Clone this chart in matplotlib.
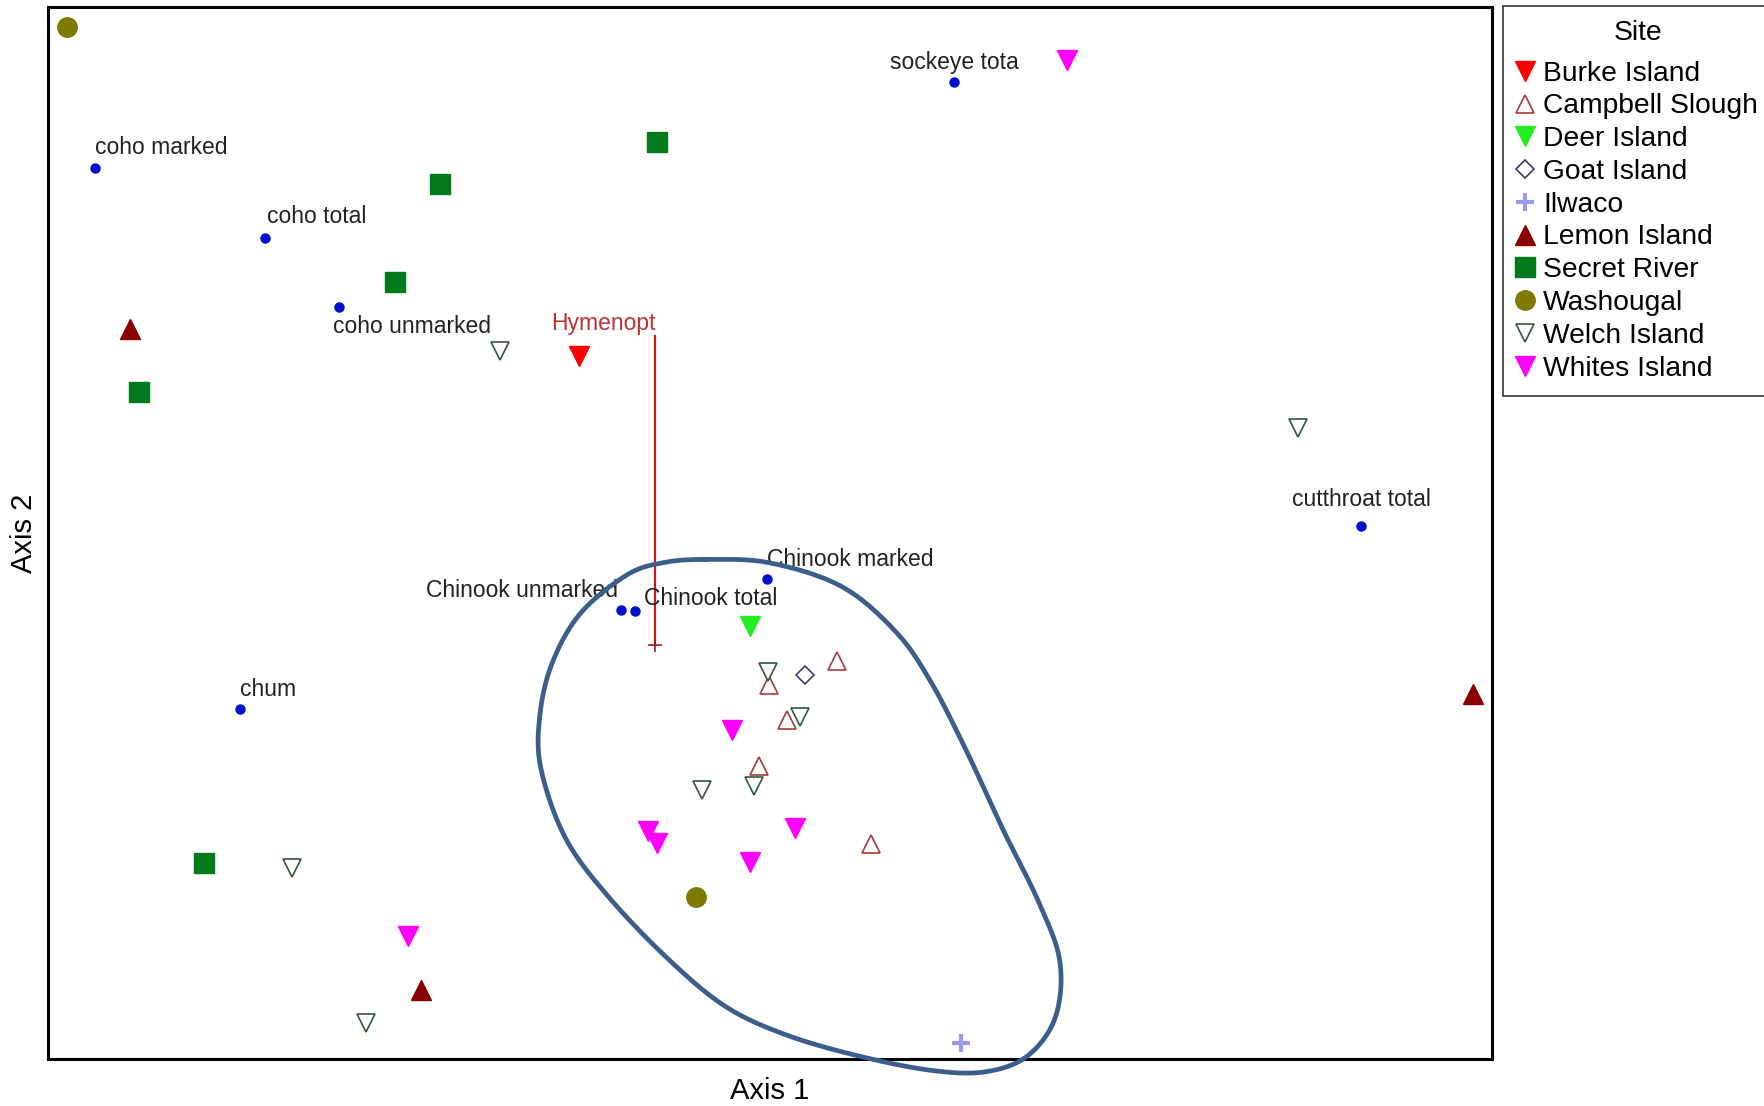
import numpy as np
import matplotlib
matplotlib.use("Agg")
import matplotlib.pyplot as plt

plt.rcParams['font.family'] = ['Liberation Sans', 'DejaVu Sans']

# ordination scores (arbitrary axis units)
site_names = ["Burke Island", "Campbell Slough", "Deer Island", "Goat Island", "Ilwaco",
              "Lemon Island", "Secret River", "Washougal", "Welch Island", "Whites Island"]
site_axis1 = [
    [47.2],
    [70.1, 64.1, 65.7, 63.2, 73.1],
    [62.4],
    [67.3],
    [81.1],
    [7.3, 126.6, 33.1],
    [54.1, 34.8, 30.8, 8.1, 13.9],
    [1.7, 57.6],
    [40.2, 111.1, 64.0, 66.8, 58.1, 62.7, 21.7, 28.3],
    [90.5, 60.8, 53.3, 54.1, 66.4, 62.4, 32.0],
]
site_axis2 = [
    [62.5],
    [35.4, 33.2, 30.1, 26.0, 19.1],
    [38.5],
    [34.1],
    [1.4],
    [64.9, 32.4, 6.1],
    [81.5, 77.8, 69.1, 59.3, 17.4],
    [91.7, 14.4],
    [62.9, 56.1, 34.4, 30.4, 23.9, 24.3, 17.0, 3.2],
    [88.8, 29.2, 20.3, 19.2, 20.5, 17.5, 10.9],
]

species_names = ["coho marked", "coho total", "coho unmarked", "sockeye tota", "cutthroat total",
                 "Chinook marked", "Chinook unmarked", "Chinook total", "chum"]
species_axis1 = [4.2, 19.3, 25.9, 80.5, 116.7, 63.9, 50.9, 52.2, 17.1]
species_axis2 = [79.2, 73.0, 66.8, 86.8, 47.4, 42.7, 39.9, 39.8, 31.1]

vector_name = "Hymenopt"
vector_axis1 = [53.9, 53.9]   # origin, tip
vector_axis2 = [36.8, 64.3]

# hand-drawn outline around the main cluster
loop_axis1 = [58.4, 64.1, 70.5, 75.3, 78.4, 81.6, 84.8, 88.0, 89.9, 89.5, 87.0, 83.2, 78.4,
              72.1, 65.7, 60.3, 55.3, 49.9, 46.0, 43.8, 43.7, 44.8, 47.3, 51.4, 54.6]
loop_axis2 = [44.4, 44.1, 42.0, 38.0, 33.6, 27.4, 20.5, 14.0, 8.7, 3.7, 0.25, -1.15, -1.0,
              0.25, 2.1, 4.6, 8.7, 14.3, 19.6, 25.8, 30.5, 35.2, 39.6, 43.0, 44.1]

site_style = {
    "Burke Island":    dict(marker='v', ms=14, mfc='#ff0000', mec='#ff0000', mew=1),
    "Campbell Slough": dict(marker='^', ms=13, mfc='white', mec='#a83a3a', mew=1.2),
    "Deer Island":     dict(marker='v', ms=14, mfc='#22ee22', mec='#22ee22', mew=1),
    "Goat Island":     dict(marker='D', ms=9, mfc='white', mec='#3a3a70', mew=1.2),
    "Ilwaco":          dict(marker='+', ms=13, mfc='#9a9aee', mec='#9a9aee', mew=3),
    "Lemon Island":    dict(marker='^', ms=14, mfc='#8b0000', mec='#8b0000', mew=1),
    "Secret River":    dict(marker='s', ms=14, mfc='#007a1a', mec='#007a1a', mew=1),
    "Washougal":       dict(marker='o', ms=14, mfc='#7f7a00', mec='#7f7a00', mew=1),
    "Welch Island":    dict(marker='v', ms=13, mfc='white', mec='#2f5a38', mew=1.2),
    "Whites Island":   dict(marker='v', ms=14, mfc='#ff00ff', mec='#ff00ff', mew=1),
}

# label offsets in points and alignment
label_pos = {
    "coho marked": ((0, 15), 'left'),
    "coho total": ((1, 15), 'left'),
    "coho unmarked": ((-5, -14), 'left'),
    "sockeye tota": ((0, 14), 'center'),
    "cutthroat total": ((0, 19), 'center'),
    "Chinook marked": ((0, 14), 'left'),
    "Chinook unmarked": ((-2, 14), 'right'),
    "Chinook total": ((6, 9), 'left'),
    "chum": ((0, 14), 'left'),
}


def closed_spline(xs, ys, n=24):
    pts = np.column_stack([xs, ys])
    m = len(pts)
    t = np.linspace(0, 1, n, endpoint=False)[:, None]
    segs = []
    for i in range(m):
        p0, p1, p2, p3 = pts[(i - 1) % m], pts[i], pts[(i + 1) % m], pts[(i + 2) % m]
        segs.append(0.5 * (2 * p1 + (-p0 + p2) * t + (2 * p0 - 5 * p1 + 4 * p2 - p3) * t ** 2
                           + (-p0 + 3 * p1 - 3 * p2 + p3) * t ** 3))
    segs.append(pts[:1])
    return np.vstack(segs)


fig = plt.figure(figsize=(17.64, 11.06), dpi=100)
ax = fig.add_axes([0.0272, 0.0425, 0.8186, 0.9512])

for name, xs, ys in zip(site_names, site_axis1, site_axis2):
    ax.plot(xs, ys, ls='none', label=name, zorder=3, **site_style[name])

ax.plot(species_axis1, species_axis2, ls='none', marker='o', ms=6.5,
        color='#0010cc', zorder=4)
for name, x, y in zip(species_names, species_axis1, species_axis2):
    off, ha = label_pos[name]
    ax.annotate(name, (x, y), xytext=off, textcoords='offset points',
                ha=ha, va='center', fontsize=16.5, color='#222222', zorder=5)

# biplot vector
ax.plot(vector_axis1, vector_axis2, color='#d01818', lw=1.6, zorder=2)
ax.plot(vector_axis1[0], vector_axis2[0], marker='+', ms=10, mew=1.2, color='#a02020', zorder=2)
ax.annotate(vector_name, (vector_axis1[1], vector_axis2[1]), xytext=(1, 9),
            textcoords='offset points', ha='right', va='center', fontsize=16.5, color='#c03030')

curve = closed_spline(loop_axis1, loop_axis2)
ax.plot(curve[:, 0], curve[:, 1], color='#3b5e8c', lw=3.4, clip_on=False, zorder=6)

ax.set_xlim(0, 128.3)
ax.set_ylim(0, 93.5)
ax.set_xticks([])
ax.set_yticks([])
for sp in ax.spines.values():
    sp.set_linewidth(2.2)
ax.set_xlabel("Axis 1", fontsize=21, labelpad=13)
ax.set_ylabel("Axis 2", fontsize=21, labelpad=7)

leg = ax.legend(title="Site", loc='upper left', bbox_to_anchor=(0.852, 0.9946),
                bbox_transform=fig.transFigure, fontsize=20.3, title_fontsize=20.3,
                frameon=True, fancybox=False, edgecolor='black', borderaxespad=0,
                handlelength=0.6, handletextpad=0.33, labelspacing=0.24,
                borderpad=0.5, numpoints=1)
leg._legend_box.sep = 10.5
leg.get_frame().set_linewidth(1.2)

fig.savefig("out.png", dpi=100)
